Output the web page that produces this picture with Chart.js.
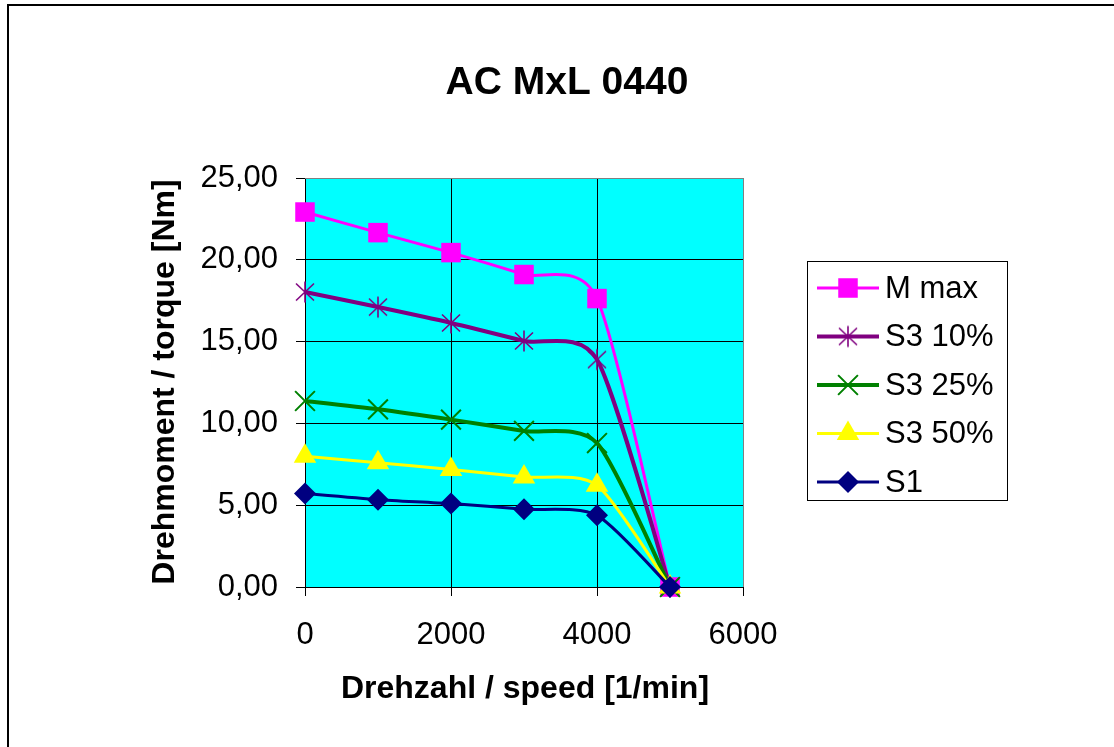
<!DOCTYPE html>
<html>
<head>
<meta charset="utf-8">
<script src="https://cdn.jsdelivr.net/npm/chart.js@4/dist/chart.umd.min.js"></script>
<style>
  html, body { margin: 0; padding: 0; background: #fff; }
  #wrap { position: relative; width: 1114px; height: 747px; overflow: hidden; }
  #frame { position: absolute; left: 7px; top: 4px; right: 0; bottom: 0;
           border-left: 2px solid #000; border-top: 2px solid #000; pointer-events: none; }
  canvas { position: absolute; left: 0; top: 0; }
</style>
</head>
<body>
<div id="wrap">
  <canvas id="myChart" width="1114" height="747"></canvas>
  <div id="frame"></div>
</div>
<script>
const speed = [0, 1000, 2000, 3000, 4000, 5000];
const mMax  = [22.92, 21.66, 20.44, 19.10, 17.63, 0];
const s3_10 = [18.03, 17.11, 16.14, 15.04, 13.90, 0];
const s3_25 = [11.37, 10.86, 10.23, 9.54, 8.80, 0];
const s3_50 = [7.99, 7.60, 7.18, 6.72, 6.22, 0];
const s1    = [5.71, 5.34, 5.10, 4.75, 4.38, 0];

const seriesNames = ['M max', 'S3 10%', 'S3 25%', 'S3 50%', 'S1'];
const xTicks = [0, 2000, 4000, 6000];
const yTicks = [0, 5, 10, 15, 20, 25];

const FONT = '"Liberation Sans", Arial, sans-serif';
const SMOOTH = 0.12;

// excel style star: an X with a vertical bar
function starMarker(color) {
  const c = document.createElement('canvas');
  c.width = 24; c.height = 24;
  const g = c.getContext('2d');
  g.strokeStyle = color;
  g.lineWidth = 1.6;
  g.beginPath();
  g.moveTo(12, 1.5); g.lineTo(12, 22.5);
  g.moveTo(3, 3.5); g.lineTo(21, 20.5);
  g.moveTo(21, 3.5); g.lineTo(3, 20.5);
  g.stroke();
  return c;
}

function pts(vals) {
  return speed.map((s, i) => ({ x: s, y: vals[i] }));
}

const ctx = document.getElementById('myChart');

const datasets = [
  { label: seriesNames[0], data: pts(mMax), borderColor: '#FF00FF', backgroundColor: '#FF00FF',
    borderWidth: 3, pointStyle: 'rect', pointRadius: 13.8, pointBorderWidth: 0, order: 5 },
  { label: seriesNames[1], data: pts(s3_10), borderColor: '#800080', backgroundColor: '#800080',
    borderWidth: 4, pointStyle: starMarker('#800080'), pointRadius: 11, order: 4 },
  { label: seriesNames[2], data: pts(s3_25), borderColor: '#008000', backgroundColor: '#008000',
    borderWidth: 4, pointStyle: 'crossRot', pointRadius: 14, pointBorderWidth: 2, order: 3 },
  { label: seriesNames[3], data: pts(s3_50), borderColor: '#FFFF00', backgroundColor: '#FFFF00',
    borderWidth: 3, pointStyle: 'triangle', pointRadius: 13, pointBorderWidth: 0, order: 2 },
  { label: seriesNames[4], data: pts(s1), borderColor: '#000080', backgroundColor: '#000080',
    borderWidth: 3, pointStyle: 'rectRot', pointRadius: 11, pointBorderWidth: 0, order: 1 }
];

// excel-like smoothing: uniform catmull-rom style control points
const excelSmooth = {
  id: 'excelSmooth',
  beforeDatasetDraw(chart, args) {
    const meta = args.meta;
    const line = meta.dataset;
    if (!line) return;
    line.updateControlPoints(chart.chartArea, 'x');
    const p = meta.data;
    for (let i = 0; i < p.length; i++) {
      const prev = p[i - 1] || p[i];
      const next = p[i + 1] || p[i];
      const dx = (next.x - prev.x) * SMOOTH;
      const dy = (next.y - prev.y) * SMOOTH;
      p[i].cp1x = p[i].x - dx; p[i].cp1y = p[i].y - dy;
      p[i].cp2x = p[i].x + dx; p[i].cp2y = p[i].y + dy;
    }
  }
};

const plotBg = {
  id: 'plotBg',
  beforeDraw(chart) {
    const a = chart.chartArea, c = chart.ctx;
    c.save();
    c.fillStyle = '#00FFFF';
    c.fillRect(a.left, a.top, a.right - a.left, a.bottom - a.top);
    c.restore();
  },
  afterDatasetsDraw(chart) {
    const a = chart.chartArea, c = chart.ctx;
    c.save();
    c.strokeStyle = '#808080';
    c.lineWidth = 1;
    c.beginPath();
    c.moveTo(a.left, a.top + 0.5); c.lineTo(a.right + 0.5, a.top + 0.5);
    c.lineTo(a.right + 0.5, a.bottom);
    c.stroke();
    c.restore();
  }
};

const texts = {
  id: 'texts',
  afterDraw(chart) {
    const c = chart.ctx;
    c.save();
    c.fillStyle = '#000';
    c.textAlign = 'center';
    c.textBaseline = 'middle';
    c.font = 'bold 39px ' + FONT;
    c.fillText('AC MxL 0440', 567, 83);
    c.font = 'bold 32px ' + FONT;
    c.fillText('Drehzahl / speed [1/min]', 525, 689);
    c.translate(165, 382);
    c.rotate(-Math.PI / 2);
    c.fillText('Drehmoment / torque [Nm]', 0, 0);
    c.restore();

    // legend
    c.save();
    c.strokeStyle = '#000';
    c.lineWidth = 1;
    c.strokeRect(807.5, 261.5, 200, 239);
    const helpers = Chart.helpers;
    chart.data.datasets.forEach((ds, i) => {
      const y = 288 + i * 48.5;
      c.strokeStyle = ds.borderColor;
      c.lineWidth = ds.borderWidth;
      c.beginPath();
      c.moveTo(817, y); c.lineTo(879, y);
      c.stroke();
      c.fillStyle = ds.backgroundColor;
      c.strokeStyle = ds.borderColor;
      c.lineWidth = ds.pointBorderWidth || 0;
      helpers.drawPoint(c, { pointStyle: ds.pointStyle, radius: ds.pointRadius,
        borderWidth: ds.pointBorderWidth || 0, rotation: 0 }, 848, y);
      c.fillStyle = '#000';
      c.font = '31px ' + FONT;
      c.textAlign = 'left';
      c.textBaseline = 'middle';
      c.fillText(ds.label, 885, y + 1);
    });
    c.restore();
  }
};

new Chart(ctx, {
  type: 'line',
  data: { datasets },
  options: {
    responsive: false,
    animation: false,
    events: [],
    clip: false,
    layout: { padding: { top: 178, right: 371, left: 0, bottom: 0 } },
    elements: { line: { tension: 0.33 } },
    plugins: { legend: { display: false }, tooltip: { enabled: false }, title: { display: false } },
    scales: {
      x: {
        type: 'linear', min: 0, max: 6000,
        afterBuildTicks: s => { s.ticks = xTicks.map(v => ({ value: v })); },
        afterFit: s => { s.height = 747 - 587; },
        ticks: { color: '#000', font: { family: FONT, size: 31 }, padding: 21, maxRotation: 0,
                 callback: v => String(v) },
        grid: { color: c => (c.tick && c.tick.value === 6000) ? '#808080' : '#000',
                lineWidth: 1, tickLength: 9, tickColor: '#000' },
        border: { color: '#000', width: 1 }
      },
      y: {
        min: 0, max: 25,
        afterBuildTicks: s => { s.ticks = yTicks.map(v => ({ value: v })); },
        afterFit: s => { s.width = 305; },
        ticks: { color: '#000', font: { family: FONT, size: 31 }, padding: 18,
                 callback: v => v.toFixed(2).replace('.', ',') },
        grid: { color: c => (c.tick && c.tick.value === 25) ? '#808080' : '#000',
                lineWidth: 1, tickLength: 9, tickColor: '#000' },
        border: { color: '#000', width: 1 }
      }
    }
  },
  plugins: [plotBg, excelSmooth, texts]
});
</script>
</body>
</html>
